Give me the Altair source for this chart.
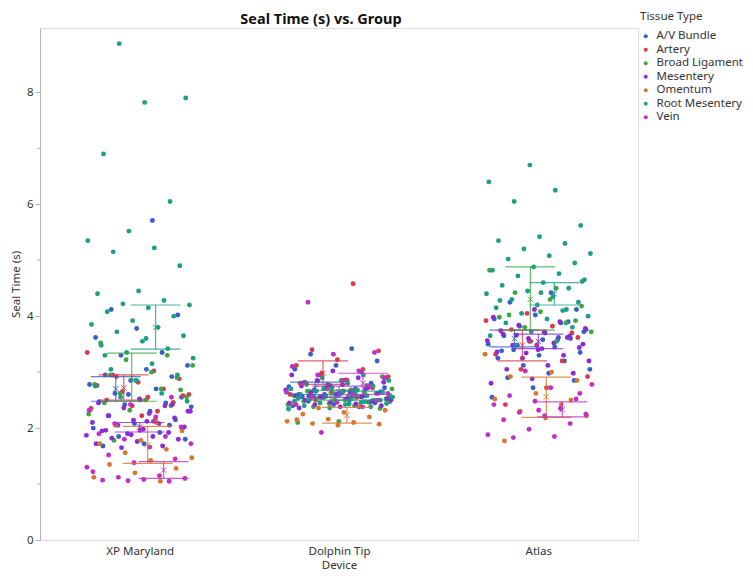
import altair as alt
import pandas as pd

TITLE = "Seal Time (s) vs. Group"
DEVICES = ["XP Maryland", "Dolphin Tip", "Atlas"]
TISSUES = ["A/V Bundle", "Artery", "Broad Ligament", "Mesentery", "Omentum", "Root Mesentery", "Vein"]
COLORS = ["#3560C8", "#D83A4E", "#3FA646", "#8A2BD6", "#D8772A", "#1F9E86", "#C42EC8"]

# ---- seal times (s) ----
XP_AV = [5.71, 4.12, 4.02, 3.78, 3.62, 3.35, 3.3, 3.12, 3.05, 2.95, 2.92, 2.85, 2.78, 2.7, 2.62, 2.55, 2.5, 2.47,
         2.45, 2.42, 2.38, 2.3, 2.22, 2.15, 2.08, 2.0, 1.92, 1.85, 1.8, 1.72, 1.68, 2.05, 2.6]
XP_ART = [3.35, 3.02, 2.95, 2.88, 2.82, 2.76, 2.7, 2.65, 2.6, 2.55, 2.5, 2.46, 2.4, 2.35, 2.3, 2.92, 2.58, 2.22]
XP_BL = [3.52, 3.3, 3.22, 3.12, 3.0, 2.95, 2.9, 2.85, 2.78, 2.7, 2.62, 2.56, 2.5, 2.45, 2.4, 2.32, 2.25, 2.15, 1.78, 2.68]
XP_MES = [2.52, 2.45, 2.4, 2.36, 2.3, 2.26, 2.22, 2.18, 2.14, 2.1, 2.08, 2.05, 2.02, 1.98, 1.95, 1.92, 1.9, 1.87,
          1.85, 1.82, 1.8, 1.76, 1.72, 1.68, 1.65, 2.3, 2.12, 1.96, 2.42, 1.88]
XP_OM = [2.32, 2.1, 2.05, 1.95, 1.78, 1.72, 1.62, 1.56, 1.47, 1.42, 1.35, 1.28, 1.2, 1.12, 1.05]
XP_RM = [8.87, 7.9, 7.82, 6.9, 6.05, 5.52, 5.35, 5.22, 5.15, 4.9, 4.45, 4.4, 4.28, 4.22, 4.2, 4.15, 4.08, 4.0, 3.92,
         3.85, 3.8, 3.72, 3.65, 3.55, 3.48, 3.42, 3.35, 3.25, 3.15, 3.05, 2.95, 2.85, 2.75, 2.62, 2.55, 2.48, 3.6, 3.3]
XP_VEIN = [2.55, 2.42, 2.32, 2.2, 2.08, 2.02, 1.96, 1.9, 1.85, 1.8, 1.72, 1.66, 1.52, 1.45, 1.38, 1.22, 1.15, 1.12,
           1.1, 1.08, 1.07, 1.05, 1.06, 1.3, 2.12]

DT_AV = [3.42, 3.32, 3.2, 3.12, 3.05, 3.0, 2.95, 2.9, 2.86, 2.82, 2.8, 2.76, 2.74, 2.7, 2.68, 2.65, 2.62, 2.6, 2.58,
         2.55, 2.52, 2.5, 2.48, 2.45, 2.42, 2.4, 2.38, 2.84, 2.72, 2.66, 2.56, 2.46, 2.78, 2.64]
DT_ART = [4.58, 3.4, 3.38, 3.22, 3.12, 3.05, 2.98, 2.92, 2.85, 2.8, 2.72, 2.65, 2.6, 2.55, 2.5]
DT_BL = [2.92, 2.85, 2.8, 2.76, 2.72, 2.7, 2.68, 2.65, 2.62, 2.6, 2.58, 2.56, 2.55, 2.52, 2.5, 2.48, 2.46, 2.44,
         2.42, 2.4, 2.38, 2.35, 2.12, 2.1, 2.64, 2.54, 2.47, 2.58, 2.66, 2.5]
DT_MES = [3.02, 2.95, 2.9, 2.85, 2.82, 2.78, 2.75, 2.72, 2.7, 2.68, 2.66, 2.64, 2.62, 2.6, 2.58, 2.56, 2.55, 2.53,
          2.52, 2.5, 2.48, 2.46, 2.45, 2.43, 2.42, 2.4, 2.38, 2.36, 2.7, 2.6, 2.5, 2.65, 2.57, 2.47]
DT_OM = [2.5, 2.45, 2.4, 2.36, 2.32, 2.28, 2.25, 2.2, 2.16, 2.12, 2.1, 2.08, 2.07, 2.05, 2.15]
DT_RM = [2.95, 2.9, 2.85, 2.8, 2.78, 2.75, 2.72, 2.7, 2.68, 2.66, 2.64, 2.62, 2.6, 2.58, 2.57, 2.55, 2.54, 2.52,
         2.5, 2.49, 2.48, 2.46, 2.45, 2.44, 2.42, 2.4, 2.38, 2.36, 2.34, 2.62, 2.56, 2.5, 2.6, 2.53, 2.47, 2.7, 2.58, 2.43]
DT_VEIN = [4.25, 3.35, 3.32, 3.1, 3.02, 2.95, 2.9, 2.85, 2.8, 2.75, 2.7, 2.65, 2.6, 2.55, 2.5, 2.46, 2.42, 2.38, 1.92, 2.62]

AT_AV = [4.42, 4.25, 4.12, 4.02, 3.95, 3.88, 3.82, 3.76, 3.7, 3.65, 3.6, 3.55, 3.5, 3.45, 3.4, 3.35, 3.3, 3.25,
         3.2, 3.12, 3.05, 2.98, 2.9, 2.85, 2.72, 2.55, 3.62, 3.48, 3.72, 3.58, 3.38, 3.9]
AT_ART = [4.05, 3.92, 3.82, 3.76, 3.62, 3.48, 3.32, 3.2, 3.05, 2.92, 2.72, 2.42, 3.7, 3.55]
AT_BL = [4.82, 4.5, 4.42, 4.18, 4.08, 3.98, 3.88, 3.8, 3.72, 4.3, 4.02, 3.92]
AT_MES = [4.12, 3.98, 3.9, 3.84, 3.78, 3.72, 3.68, 3.64, 3.6, 3.56, 3.52, 3.48, 3.44, 3.4, 3.36, 3.3, 3.25, 3.2,
          3.12, 3.05, 2.98, 2.88, 2.8, 3.58, 3.66, 3.5, 3.42, 3.74, 3.62, 3.34]
AT_OM = [3.32, 3.0, 2.92, 2.85, 2.62, 2.52, 2.42, 2.3, 2.22, 2.18, 1.77, 2.5]
AT_RM = [6.7, 6.4, 6.25, 6.05, 5.62, 5.42, 5.35, 5.3, 5.2, 5.12, 5.08, 5.02, 4.95, 4.88, 4.82, 4.76, 4.72, 4.65,
         4.6, 4.55, 4.5, 4.45, 4.4, 4.35, 4.3, 4.25, 4.2, 4.15, 4.1, 4.05, 4.0, 3.95, 3.88, 3.8, 3.72, 3.65, 3.55,
         3.48, 4.62, 4.42, 4.28, 4.12]
AT_VEIN = [3.02, 2.78, 2.72, 2.58, 2.52, 2.48, 2.42, 2.35, 2.28, 2.25, 2.22, 2.15, 2.08, 1.98, 1.88, 1.85, 1.83, 2.62, 2.32]

# ---- error bars (low, mean, high) per tissue, in TISSUES order ----
XP_LO = [2.48, 2.50, 2.48, 1.93, 1.37, 3.41, 1.10]
XP_MEAN = [2.70, 2.72, 2.90, 2.02, 1.70, 3.80, 1.25]
XP_HI = [2.92, 2.95, 3.34, 2.10, 2.03, 4.20, 1.40]
DT_LO = [2.60, 2.78, 2.50, 2.55, 2.09, 2.50, 2.60]
DT_MEAN = [2.71, 2.98, 2.59, 2.65, 2.23, 2.58, 2.80]
DT_HI = [2.82, 3.20, 2.68, 2.75, 2.37, 2.66, 2.98]
AT_LO = [3.45, 3.20, 3.75, 3.42, 2.19, 4.20, 2.20]
AT_MEAN = [3.60, 3.48, 4.30, 3.55, 2.56, 4.40, 2.33]
AT_HI = [3.75, 3.75, 4.88, 3.68, 2.91, 4.60, 2.47]

Y_MAJOR = [0, 2, 4, 6, 8]
Y_MINOR = [1, 3, 5, 7]

POINTS = {
    "XP Maryland": [XP_AV, XP_ART, XP_BL, XP_MES, XP_OM, XP_RM, XP_VEIN],
    "Dolphin Tip": [DT_AV, DT_ART, DT_BL, DT_MES, DT_OM, DT_RM, DT_VEIN],
    "Atlas": [AT_AV, AT_ART, AT_BL, AT_MES, AT_OM, AT_RM, AT_VEIN],
}
BARS = {
    "XP Maryland": (XP_LO, XP_MEAN, XP_HI),
    "Dolphin Tip": (DT_LO, DT_MEAN, DT_HI),
    "Atlas": (AT_LO, AT_MEAN, AT_HI),
}

rows = []
for dev, lists in POINTS.items():
    for tissue, vals in zip(TISSUES, lists):
        for v in vals:
            rows.append({"device": dev, "tissue": tissue, "seal": v})
pts = pd.DataFrame(rows)

brow = []
for dev, (lo, mn, hi) in BARS.items():
    for i, tissue in enumerate(TISSUES):
        brow.append({"device": dev, "tissue": tissue, "lo": lo[i], "mean": mn[i], "hi": hi[i]})
bars = pd.DataFrame(brow)

FONT = "Noto Sans"
TXT = "#333333"
dev_expr = "indexof(['XP Maryland','Dolphin Tip','Atlas'], datum.device)"
tis_expr = "indexof(['A/V Bundle','Artery','Broad Ligament','Mesentery','Omentum','Root Mesentery','Vein'], datum.tissue)"

yscale = alt.Scale(domain=[0, 9.15], nice=False, zero=True)
xscale = alt.Scale(domain=[-0.5, 2.5], nice=False, zero=False)
cscale = alt.Scale(domain=TISSUES, range=COLORS)

points = alt.Chart(pts).transform_window(
    rn="row_number()", groupby=["device"]
).transform_calculate(
    xpos=f"{dev_expr} + ((datum.rn * 0.6180339887) % 1 - 0.5) * 0.54"
).mark_circle(size=24, opacity=1).encode(
    x=alt.X("xpos:Q", scale=xscale,
            axis=alt.Axis(values=[0, 1, 2], labelExpr="['XP Maryland','Dolphin Tip','Atlas'][datum.value]",
                          title="Device", grid=False, ticks=False, domain=False, labelPadding=5,
                          titlePadding=3, labelFontSize=11.5, titleFontSize=11.5, labelFont=FONT, titleFont=FONT,
                          labelColor=TXT, titleColor=TXT, titleFontWeight="normal")),
    y=alt.Y("seal:Q", scale=yscale,
            axis=alt.Axis(values=Y_MAJOR, format="d", title="Seal Time (s)", grid=False, tickSize=5,
                          labelPadding=2, titlePadding=5, labelFontSize=11.5, titleFontSize=11.5,
                          labelFont=FONT, titleFont=FONT,
                          labelColor=TXT, titleColor=TXT, titleFontWeight="normal",
                          domainColor="#b5b5b5", tickColor="#b5b5b5")),
    color=alt.Color("tissue:N", scale=cscale,
                    legend=alt.Legend(title="Tissue Type", orient="none", legendX=600, legendY=-17,
                                      symbolType="circle", symbolSize=16, symbolStrokeWidth=0,
                                      labelFontSize=11.5, titleFontSize=11.5, labelFont=FONT, titleFont=FONT,
                                      titleFontWeight="normal", labelColor=TXT, titleColor=TXT,
                                      rowPadding=0.5, titlePadding=8, labelOffset=5, padding=0)),
)

bar_base = alt.Chart(bars).transform_calculate(
    bx=f"{dev_expr} + ({tis_expr} - 3) * 0.04"
).transform_calculate(
    bx1="datum.bx - 0.125", bx2="datum.bx + 0.125"
)
col_nl = alt.Color("tissue:N", scale=cscale, legend=None)

vline = bar_base.mark_rule(strokeWidth=1.2, opacity=0.8).encode(
    x=alt.X("bx:Q", scale=xscale), y=alt.Y("lo:Q", scale=yscale), y2="hi:Q", color=col_nl)
cap_hi = bar_base.mark_rule(strokeWidth=1.2, opacity=0.8).encode(
    x=alt.X("bx1:Q", scale=xscale), x2="bx2:Q", y=alt.Y("hi:Q", scale=yscale), color=col_nl)
cap_lo = bar_base.mark_rule(strokeWidth=1.2, opacity=0.8).encode(
    x=alt.X("bx1:Q", scale=xscale), x2="bx2:Q", y=alt.Y("lo:Q", scale=yscale), color=col_nl)
mean_x = bar_base.mark_point(shape="M-1,-1L1,1M-1,1L1,-1", size=30, filled=False, strokeWidth=1,
                             opacity=0.85).encode(
    x=alt.X("bx:Q", scale=xscale), y=alt.Y("mean:Q", scale=yscale), color=col_nl)

minor = alt.Chart(pd.DataFrame({"v": Y_MINOR})).mark_rule(color="#b5b5b5", clip=False).encode(
    x=alt.value(-3), x2=alt.value(0), y=alt.Y("v:Q", scale=yscale))

title = alt.Chart(pd.DataFrame({"t": [TITLE]})).mark_text(
    font=FONT, fontSize=14.5, fontWeight="bold", color="#111111", align="center", baseline="alphabetic"
).encode(text="t:N", x=alt.value(281), y=alt.value(-4))

chart = alt.layer(points, vline, cap_hi, cap_lo, mean_x, minor, title).properties(
    width=598, height=512,
    padding={"left": 32, "top": 20, "right": 107, "bottom": 38},
    autosize=alt.AutoSizeParams(type="none"),
).configure_view(stroke="#c4c4c4", strokeWidth=1).configure(background="white")

chart.save("out.html", embed_options={"renderer": "svg", "actions": False})
